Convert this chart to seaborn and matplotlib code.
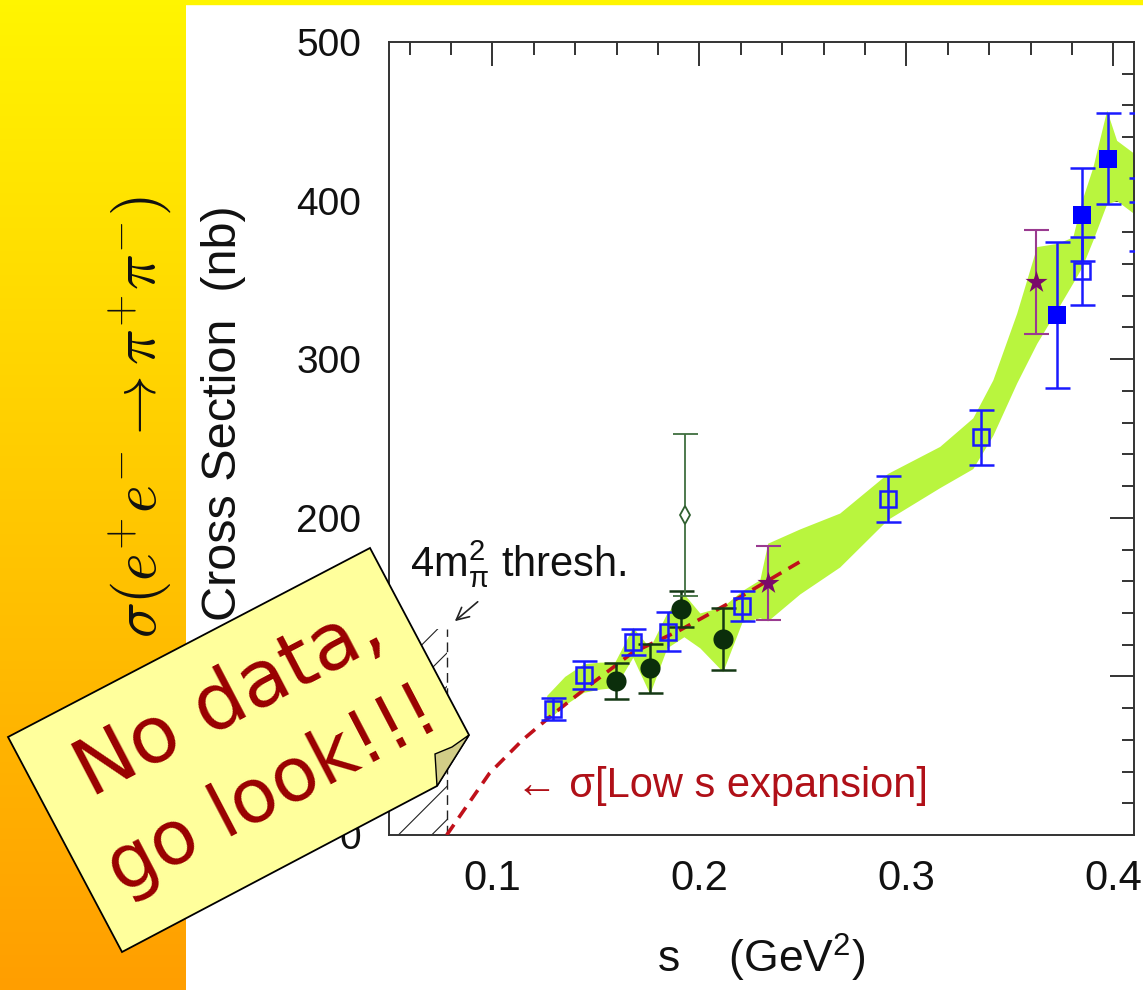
import numpy as np
import seaborn as sns
import matplotlib.pyplot as plt
from matplotlib.patches import Polygon, Rectangle
from matplotlib.ticker import MultipleLocator

# --- data ---
# green error band (s in GeV^2, cross section in nb)
band_s = [0.1262, 0.1349, 0.1441, 0.1519, 0.1591, 0.1678, 0.1760, 0.1843, 0.1925,
          0.2002, 0.2113, 0.2205, 0.2292, 0.2330, 0.2485, 0.2678, 0.2910, 0.3161,
          0.3321, 0.3418, 0.3533, 0.3630, 0.3727, 0.3804, 0.3848, 0.3901, 0.3968,
          0.4016, 0.4098, 0.4150]
band_lo = [72, 82, 90, 92, 93, 112, 89, 118, 125, 118, 103, 134, 137, 135, 152, 169,
           199, 219, 231, 252, 285, 310, 331, 348, 358, 375, 398, 400, 392, 392]
band_hi = [88, 100, 108, 109, 109, 131, 118, 140, 152, 140, 144, 154, 161, 184, 193, 203,
           228, 245, 263, 287, 329, 371, 373, 377, 400, 421, 457, 438, 430, 430]

# low-s expansion curve
exp_s = [0.0779, 0.0986, 0.1146, 0.1291, 0.1455, 0.1677, 0.1904, 0.2196, 0.2495]
exp_sig = [0, 39, 60, 76, 93, 115, 129, 150, 173]

# open blue squares
osq_s = [0.1291, 0.1441, 0.1678, 0.1847, 0.2205, 0.2910, 0.3360, 0.3847]
osq_y = [79.4, 100.9, 121.7, 128.0, 144.4, 211.9, 250.8, 355.6]
osq_e = [7.0, 8.8, 8.0, 12.3, 9.5, 14.7, 17.4, 21.5]

# filled blue squares
fsq_s = [0.3729, 0.3847, 0.3976]
fsq_y = [327.9, 391.2, 426.5]
fsq_e = [46.3, 29.3, 28.7]

# points just past the right edge
edge_s = [0.4135, 0.4135]
edge_y = [427.0, 391.0]
edge_e = [28.0, 23.0]

# dark green circles
circ_s = [0.1599, 0.1763, 0.1913, 0.2114]
circ_y = [97.1, 105.0, 142.5, 123.8]
circ_e = [11.1, 15.5, 11.4, 19.6]

# open diamond
dia_s = [0.1930]
dia_y = [202.0]
dia_e = [51.0]

# purple stars
star_s = [0.2331, 0.3626]
star_y = [158.9, 348.7]
star_e = [23.6, 32.5]

thresh_s = 0.0779
thresh_top = 130

W, H = 1143, 990


def fx(px):
    return px / W


def fy(py):
    return 1 - py / H


sns.set_theme(style="white")
plt.rcParams['font.family'] = ['Liberation Sans', 'DejaVu Sans']
plt.rcParams['mathtext.fontset'] = 'custom'
plt.rcParams['mathtext.rm'] = 'Liberation Sans'
plt.rcParams['mathtext.it'] = 'Liberation Sans:italic'
plt.rcParams['mathtext.bf'] = 'Liberation Sans:bold'
plt.rcParams['hatch.linewidth'] = 0.8

fig = plt.figure(figsize=(W / 100, H / 100), dpi=100, facecolor='white')

# left gradient panel
bg = fig.add_axes([0, 0, fx(186), 1])
grad = np.linspace(0, 1, 256)[:, None]
top_c = np.array([255, 245, 0]) / 255
bot_c = np.array([255, 158, 0]) / 255
img = top_c[None, None, :] * (1 - grad[:, :, None]) + bot_c[None, None, :] * grad[:, :, None]
bg.imshow(img, aspect='auto', extent=[0, 1, 0, 1])
bg.set_axis_off()
fig.add_artist(Rectangle((0, fy(4)), 1, 4 / H, transform=fig.transFigure,
                         color=(1, 0.96, 0), zorder=5))

ax = fig.add_axes([fx(389), fy(835), fx(1134) - fx(389), fy(42) - fy(835)])
ax.set_facecolor('white')

# band
ax.fill_between(band_s, band_lo, band_hi, color='#b9f53e', lw=0, zorder=1)

# threshold hatch + dashed line
ax.fill_between([0.05, thresh_s], 0, thresh_top, facecolor='none', edgecolor='#222222',
                hatch='/', linewidth=0, zorder=1)
ax.plot([thresh_s, thresh_s], [0, thresh_top], color='#222222', lw=1.0,
        linestyle=(0, (7, 4)), zorder=2)
ax.text(0.060, 163, r'4m$\mathrm{^{2}_{\pi}}$ thresh.', fontsize=30, color='#111111',
        ha='left', va='baseline', zorder=6)
ax.annotate('', xy=(0.0808, 133.7), xytext=(0.0939, 148.2),
            arrowprops=dict(arrowstyle='->', color='#222222', lw=1.2, mutation_scale=22))

# low-s expansion
sns.lineplot(x=exp_s, y=exp_sig, ax=ax, color='#c0101a', lw=2.6,
             linestyle=(0, (3.5, 2.3)), zorder=3)
ax.text(0.1116, 24, '\u2190 \u03c3[Low s expansion]', fontsize=30, color='#b01018',
        ha='left', va='baseline', zorder=6)

# error bars
eb = dict(fmt='none', capsize=9, zorder=4)
ax.errorbar(osq_s, osq_y, yerr=osq_e, ecolor='#1a1aff', elinewidth=1.8, capthick=1.8, **eb)
ax.errorbar(fsq_s, fsq_y, yerr=fsq_e, ecolor='#1a1aff', elinewidth=1.8, capthick=1.8, **eb)
ax.errorbar(edge_s, edge_y, yerr=edge_e, ecolor='#1a1aff', elinewidth=1.8, capthick=1.8, **eb)
ax.errorbar(circ_s, circ_y, yerr=circ_e, ecolor='#143814', elinewidth=1.8, capthick=1.8, **eb)
ax.errorbar(dia_s, dia_y, yerr=dia_e, ecolor='#3f6e3f', elinewidth=1.3, capthick=1.3, **eb)
ax.errorbar(star_s, star_y, yerr=star_e, ecolor='#9a3a90', elinewidth=1.5, capthick=1.5, **eb)

# markers
ax.plot(osq_s, osq_y, 's', ms=11.5, mfc='none', mec='#1a1aff', mew=1.8, zorder=5)
sns.scatterplot(x=fsq_s, y=fsq_y, ax=ax, marker='s', s=185, color='#0000ff',
                edgecolor='#0000ff', linewidth=0, zorder=5)
sns.scatterplot(x=circ_s, y=circ_y, ax=ax, marker='o', s=210, color='#0b2e0b',
                edgecolor='#0b2e0b', linewidth=0, zorder=5)
ax.plot(dia_s, dia_y, 'd', ms=9, mfc='white', mec='#2f5f2f', mew=1.3, zorder=5)
sns.scatterplot(x=star_s, y=star_y, ax=ax, marker='*', s=280, color='#7a0a6a',
                edgecolor='#7a0a6a', linewidth=0, zorder=5)

ax.set_xlim(0.05, 0.41)
ax.set_ylim(0, 500)
ax.xaxis.set_major_locator(MultipleLocator(0.1))
ax.xaxis.set_minor_locator(MultipleLocator(0.02))
ax.yaxis.set_major_locator(MultipleLocator(100))
ax.yaxis.set_minor_locator(MultipleLocator(20))
ax.tick_params(which='both', direction='in', top=True, right=True, color='#333333',
               width=1.4, labelcolor='#111111', labelsize=28)
ax.tick_params(which='major', length=17)
ax.tick_params(which='minor', length=9)
ax.tick_params(axis='x', pad=17, labelsize=30)
ax.tick_params(axis='y', pad=20)
ax.xaxis.set_major_formatter(plt.FuncFormatter(lambda v, p: f'{v:.1f}'))
for sp in ax.spines.values():
    sp.set_color('#333333')
    sp.set_linewidth(1.4)

ax.set_xlabel('s    (GeV$^{2}$)', fontsize=32, color='#111111', labelpad=24)
ax.set_ylabel('Cross Section  (nb)', fontsize=35, color='#111111')
ax.yaxis.set_label_coords((246 - 389) / 745, (835 - 413) / 793)

# rotated physics label on the gradient panel
fig.text(fx(140), fy(417), r'$\sigma(e^{+}e^{-}\rightarrow\pi^{+}\pi^{-})$',
         math_fontfamily='cm', fontsize=43, rotation=90, ha='center', va='center',
         color='#111111', zorder=6)

# sticky note
note = [(8, 737), (370, 548), (469, 735), (437, 786), (122, 952)]
fig.add_artist(Polygon([(fx(x), fy(y)) for x, y in note], closed=True,
                       transform=fig.transFigure, facecolor='#ffff9c',
                       edgecolor='black', lw=1.3, zorder=10))
curl = [(435, 754), (452, 747), (469, 735), (437, 786)]
fig.add_artist(Polygon([(fx(x), fy(y)) for x, y in curl], closed=True,
                       transform=fig.transFigure, facecolor='#d2cd87',
                       edgecolor='black', lw=1.0, zorder=11))
fig.text(fx(240), fy(720), 'No data,', fontsize=57, color='#990000', rotation=27.6,
         rotation_mode='anchor', ha='center', va='baseline', family='DejaVu Sans', zorder=12)
fig.text(fx(283), fy(810), 'go look!!!', fontsize=54, color='#990000', rotation=27.6,
         rotation_mode='anchor', ha='center', va='baseline', family='DejaVu Sans', zorder=12)

fig.savefig('out.png', dpi=100, facecolor='white')
